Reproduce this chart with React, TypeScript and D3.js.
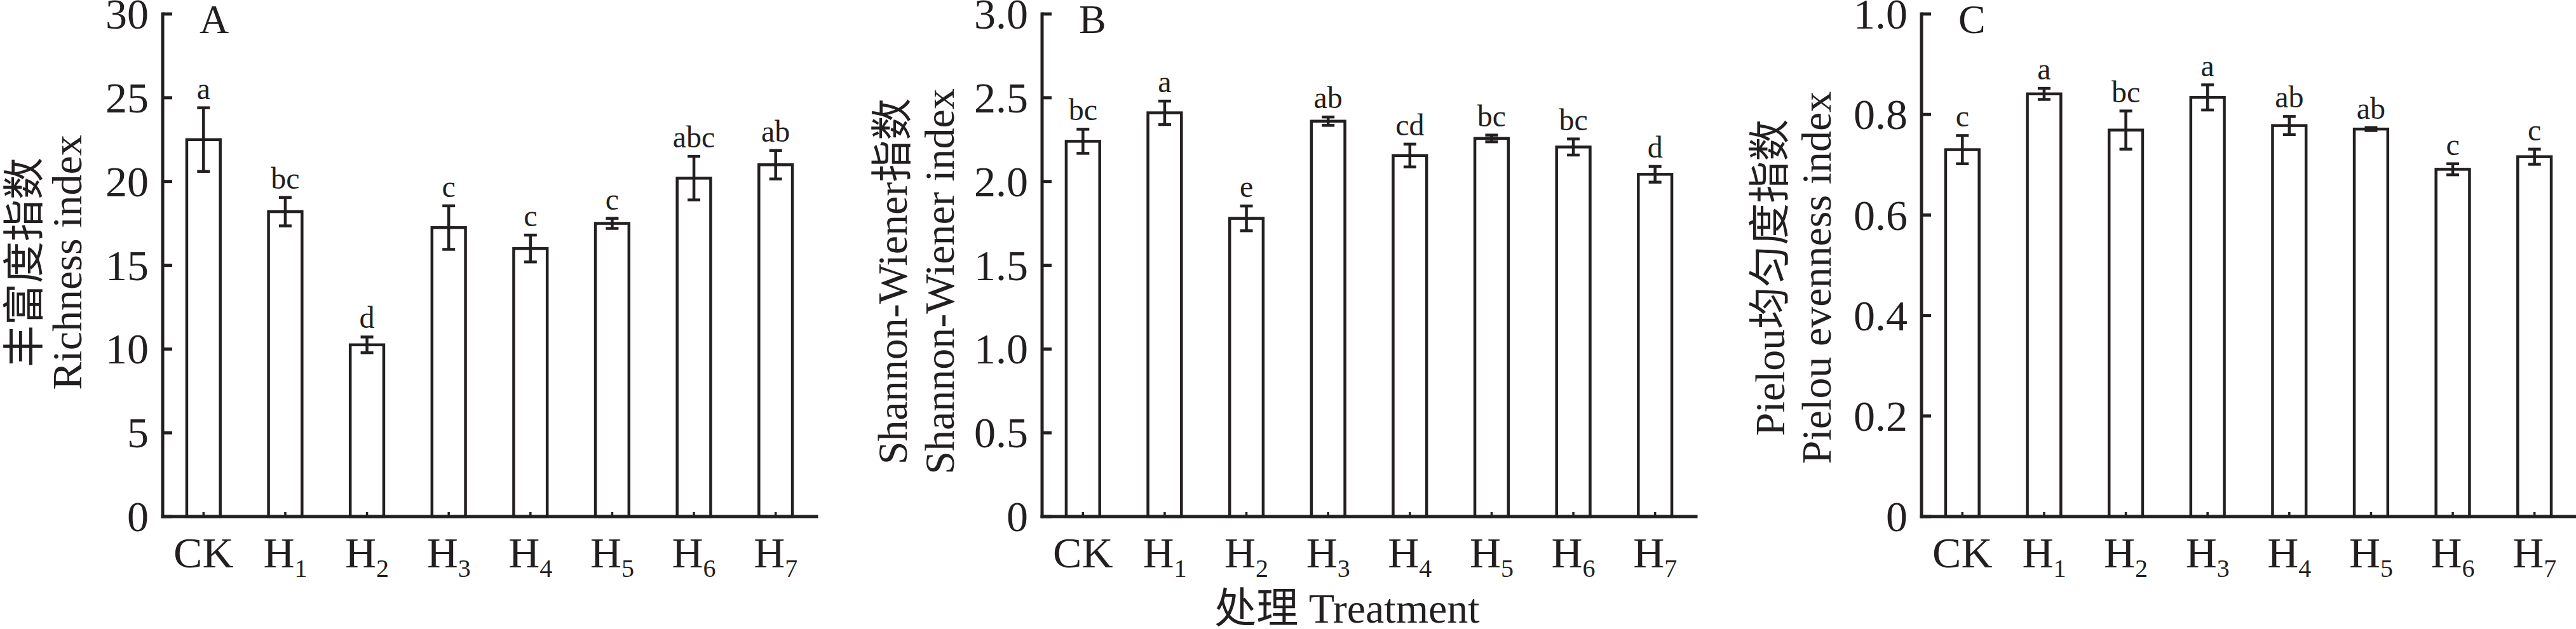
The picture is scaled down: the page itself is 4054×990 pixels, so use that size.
import * as d3 from 'd3';
import React from 'react';

// treatments and measured values (mean, SE, significance letters)
const treatments = ['CK', 'H1', 'H2', 'H3', 'H4', 'H5', 'H6', 'H7'];

const richness = [22.5, 18.2, 10.25, 17.25, 16.0, 17.5, 20.2, 21.0];
const richnessErr = [1.9, 0.85, 0.47, 1.3, 0.8, 0.3, 1.3, 0.85];
const richnessSig = ['a', 'bc', 'd', 'c', 'c', 'c', 'abc', 'ab'];
const richnessTicks = [0, 5, 10, 15, 20, 25, 30];

const shannon = [2.24, 2.41, 1.78, 2.36, 2.155, 2.257, 2.206, 2.043];
const shannonErr = [0.072, 0.07, 0.074, 0.025, 0.068, 0.02, 0.048, 0.047];
const shannonSig = ['bc', 'a', 'e', 'ab', 'cd', 'bc', 'bc', 'd'];
const shannonTicks = [0, 0.5, 1.0, 1.5, 2.0, 2.5, 3.0];

const pielou = [0.73, 0.841, 0.769, 0.834, 0.778, 0.771, 0.691, 0.716];
const pielouErr = [0.028, 0.011, 0.038, 0.025, 0.018, 0.003, 0.011, 0.015];
const pielouSig = ['c', 'a', 'bc', 'a', 'ab', 'ab', 'c', 'c'];
const pielouTicks = [0, 0.2, 0.4, 0.6, 0.8, 1.0];

const INK = '#231f20';
const FONT = "'Liberation Serif', 'Times New Roman', 'Noto Sans CJK SC', serif";

interface PanelProps {
  letter: string;
  left: number;
  values: number[];
  errors: number[];
  sig: string[];
  ticks: number[];
  fmt: (v: number) => string;
  titles: [string, string];
  titleOffsets: [number, number];
  titleY: number;
}

const TOP = 22;
const BOTTOM = 813;
const PLOT_W = 1029;

const Panel: React.FC<PanelProps> = ({
  letter, left, values, errors, sig, ticks, fmt, titles, titleOffsets, titleY,
}) => {
  const x = d3.scaleBand<string>()
    .domain(treatments)
    .range([0, PLOT_W])
    .paddingInner(0.59)
    .paddingOuter(0.295);
  const y = d3.scaleLinear()
    .domain([0, ticks[ticks.length - 1]])
    .range([BOTTOM, TOP]);
  const bw = x.bandwidth();

  return (
    <g>
      {/* y title, two lines */}
      {titles.map((t, i) => (
        <text
          key={t}
          transform={`translate(${left + titleOffsets[i]},${titleY}) rotate(-90)`}
          textAnchor="middle"
          fontSize={66}
          fill={INK}
        >
          {t}
        </text>
      ))}
      <g transform={`translate(${left},0)`}>
        {/* bars */}
        {values.map((v, i) => {
          const cx = x(treatments[i])! + bw / 2;
          const hi = y(v + errors[i]);
          const lo = y(v - errors[i]);
          return (
            <g key={i}>
              <rect
                x={x(treatments[i])}
                y={y(v)}
                width={bw}
                height={BOTTOM - y(v)}
                fill="#fff"
                stroke={INK}
                strokeWidth={4.5}
              />
              <line x1={cx} x2={cx} y1={hi} y2={lo} stroke={INK} strokeWidth={4.5} />
              <line x1={cx - 10} x2={cx + 10} y1={hi} y2={hi} stroke={INK} strokeWidth={4.5} />
              <line x1={cx - 10} x2={cx + 10} y1={lo} y2={lo} stroke={INK} strokeWidth={4.5} />
              <text x={cx} y={hi - 14} textAnchor="middle" fontSize={48} fill={INK}>
                {sig[i]}
              </text>
              {/* small category tick */}
              <line x1={cx} x2={cx} y1={BOTTOM} y2={BOTTOM - 7} stroke={INK} strokeWidth={3.5} />
              <text x={cx} y={893} textAnchor="middle" fontSize={68} fill={INK}>
                {treatments[i].startsWith('H') ? (
                  <>
                    H<tspan fontSize={40} dy={15}>{treatments[i].slice(1)}</tspan>
                  </>
                ) : treatments[i]}
              </text>
            </g>
          );
        })}
        {/* y axis */}
        {ticks.map(t => (
          <g key={t}>
            <line x1={0} x2={15} y1={y(t)} y2={y(t)} stroke={INK} strokeWidth={5} />
            <text x={-22} y={y(t)} dy="0.34em" textAnchor="end" fontSize={68} fill={INK}>
              {fmt(t)}
            </text>
          </g>
        ))}
        <line x1={0} x2={0} y1={TOP} y2={BOTTOM} stroke={INK} strokeWidth={5} strokeLinecap="square" />
        <line x1={0} x2={PLOT_W} y1={BOTTOM} y2={BOTTOM} stroke={INK} strokeWidth={5} strokeLinecap="square" />
        <text x={58} y={52} fontSize={64} fill={INK}>{letter}</text>
      </g>
    </g>
  );
};

const fmtInt = (v: number) => d3.format('d')(v);
const fmtOne = (v: number) => (v === 0 ? '0' : d3.format('.1f')(v));

export default function App() {
  return (
    <>
      <style>{'body{margin:0}'}</style>
      <svg width={4054} height={990} fontFamily={FONT} style={{ display: 'block', background: '#fff' }}>
        <Panel
          letter="A"
          left={256}
          values={richness}
          errors={richnessErr}
          sig={richnessSig}
          ticks={richnessTicks}
          fmt={fmtInt}
          titles={['丰富度指数', 'Richness index']}
          titleOffsets={[-195, -128]}
          titleY={413}
        />
        <Panel
          letter="B"
          left={1640}
          values={shannon}
          errors={shannonErr}
          sig={shannonSig}
          ticks={shannonTicks}
          fmt={fmtOne}
          titles={['Shannon-Wiener指数', 'Shannon-Wiener index']}
          titleOffsets={[-213, -139]}
          titleY={443}
        />
        <Panel
          letter="C"
          left={3024}
          values={pielou}
          errors={pielouErr}
          sig={pielouSig}
          ticks={pielouTicks}
          fmt={fmtOne}
          titles={['Pielou均匀度指数', 'Pielou evenness index']}
          titleOffsets={[-216, -143]}
          titleY={437}
        />
        <text x={2120} y={980} textAnchor="middle" fontSize={66} fill={INK}>
          处理 Treatment
        </text>
      </svg>
    </>
  );
}
